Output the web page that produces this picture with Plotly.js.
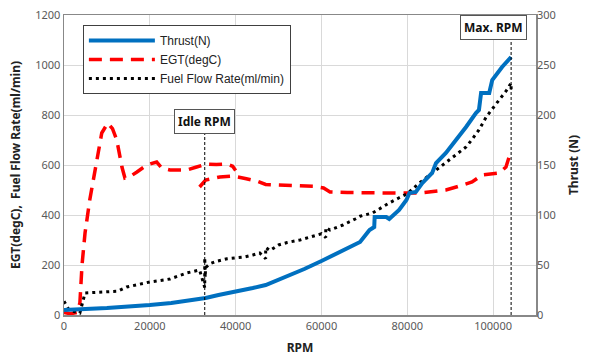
<!DOCTYPE html>
<html>
<head>
<meta charset="utf-8">
<script src="https://cdn.plot.ly/plotly-3.0.1.min.js"></script>
<style>html,body{margin:0;padding:0;background:#fff;}#chart{width:590px;height:356px;}</style>
</head>
<body>
<div id="chart"></div>
<script>
// ---- data ----
const thrustRpm = [0, 2000, 5000, 10000, 15000, 20000, 25000, 30000, 33000, 36000, 40000, 44000, 47000, 50000, 53000, 56000, 60000, 63000, 66000, 69000, 71200, 72300, 72400, 75100, 75800, 78100, 79800, 80500, 82000, 83500, 85800, 86700, 89000, 91400, 93700, 96000, 96700, 97200, 99100, 99800, 102100, 104200];
const thrustN   = [5, 5, 6, 7, 8, 10, 12, 15, 17, 20, 23, 27, 30, 35, 40, 46, 54, 60, 66, 73, 85, 88, 98, 98, 96, 105, 115, 122, 123, 132, 142, 152, 162, 175, 188, 202, 205, 222, 222, 235, 248, 258];

const egtRpm = [0, 1500, 3000, 3700, 4200, 4900, 6000, 7600, 8800, 10200, 11300, 12300, 13500, 14200, 15500, 17000, 19300, 21600, 22800, 24700, 28600, 30900, 33200, 35500, 37900, 39300, 40000, null, 31600, 33000, 36300, 39300, 42500, 45000, 47000, 52000, 58000, 60500, 62000, 66000, 71200, 76000, 82800, 89000, 91400, 95100, 97400, 101400, 103000, 103700, 104200];
const egtC   = [10, 5, 10, 48, 200, 328, 460, 620, 728, 768, 745, 700, 592, 548, 555, 572, 600, 612, 588, 580, 580, 592, 604, 602, 604, 595, 578, null, 512, 540, 552, 556, 545, 535, 522, 520, 515, 508, 492, 490, 488, 488, 488, 500, 512, 532, 560, 568, 592, 630, 640];

const fuelRpm = [0, 500, 1000, 2000, 3700, 4900, 7000, 10700, 12500, 14600, 17000, 20000, 24700, 28600, 31600, 32800, 32800, 32900, 33000, 34000, 35600, 38000, 40200, 42000, 44000, 45600, 47000, 47000, 48000, 50000, 52000, 55000, 58000, 60000, 61000, 61000, 62000, 65000, 68000, 69000, 71900, 73000, 75800, 78000, 80000, 82800, 86000, 89800, 92000, 93700, 95000, 96700, 98400, 100000, 101400, 103000, 104200, 104200];
const fuelMl  = [55, 40, 25, 15, 8, 88, 90, 92, 95, 112, 122, 132, 144, 168, 180, 110, 230, 150, 190, 205, 215, 225, 230, 232, 240, 248, 225, 270, 258, 280, 290, 300, 315, 325, 310, 350, 340, 360, 385, 395, 408, 420, 448, 468, 485, 528, 570, 620, 650, 672, 700, 740, 792, 830, 860, 895, 928, 900];

const markerRpm    = [32800, 104200];
const markerLabels = ['Idle RPM', 'Max. RPM'];
const markerTop    = [724, 1100];
const markerShift  = [0, -18];

const xTicks  = [0, 20000, 40000, 60000, 80000, 100000];
const yTicks  = [0, 200, 400, 600, 800, 1000, 1200];
const y2Ticks = [0, 50, 100, 150, 200, 250, 300];

// ---- chart ----
const FONT = '"Noto Sans", "Open Sans", sans-serif';
const LFONT = '"Liberation Sans", Arial, sans-serif';

const traces = [
  {x: thrustRpm, y: thrustN, name: 'Thrust(N)', type: 'scatter', mode: 'lines', yaxis: 'y2',
   line: {color: '#0070c0', width: 4}},
  {x: egtRpm, y: egtC, name: 'EGT(degC)', type: 'scatter', mode: 'lines', connectgaps: false,
   line: {color: '#ff0000', width: 3.5, dash: '13px,8px'}},
  {x: fuelRpm, y: fuelMl, name: 'Fuel Flow Rate(ml/min)', type: 'scatter', mode: 'lines',
   line: {color: '#000000', width: 3, dash: '3px,4px'}}
];

const shapes = markerRpm.map((r, i) => ({
  type: 'line', xref: 'x', yref: 'y', x0: r, x1: r, y0: 0, y1: markerTop[i],
  line: {color: '#000', width: 1, dash: '3px,2px'}, layer: 'above'
}));

const annotations = markerRpm.map((r, i) => ({
  x: r, y: markerTop[i], xref: 'x', yref: 'y', xanchor: 'center', yanchor: 'bottom',
  xshift: markerShift[i], text: '<b>' + markerLabels[i] + '</b>', showarrow: false,
  font: {family: FONT, size: 12, color: '#111'}, bgcolor: '#fff',
  bordercolor: '#555', borderwidth: 1, borderpad: 3
}));

const layout = {
  width: 590, height: 356,
  margin: {l: 64, r: 54, t: 15, b: 41},
  paper_bgcolor: '#fff', plot_bgcolor: '#fff',
  font: {family: FONT, size: 11, color: '#595959'},
  showlegend: true,
  legend: {x: 0.04, y: 0.967, xanchor: 'left', yanchor: 'top', bgcolor: '#fff',
           bordercolor: '#404040', borderwidth: 1, font: {family: LFONT, size: 12, color: '#222'},
           itemwidth: 66, tracegroupgap: 0},
  xaxis: {range: [0, 110000], tickvals: xTicks, ticktext: xTicks.map(String),
          showgrid: true, gridcolor: '#d9d9d9', zeroline: false,
          showline: true, linecolor: '#888', linewidth: 1.5, mirror: true, ticks: '',
          title: {text: '<b>RPM</b>', font: {family: FONT, size: 12, color: '#222'}, standoff: 12}},
  yaxis: {range: [0, 1200], tickvals: yTicks, ticktext: yTicks.map(String),
          showgrid: true, gridcolor: '#d9d9d9', zeroline: false,
          showline: true, linecolor: '#888', linewidth: 1.5, mirror: true, ticks: '',
          title: {text: '<b>EGT(degC),  Fuel Flow Rate(ml/min)</b>', font: {family: FONT, size: 12, color: '#222'}, standoff: 12}},
  yaxis2: {range: [0, 300], tickvals: y2Ticks, ticktext: y2Ticks.map(String), overlaying: 'y', side: 'right',
           showgrid: false, zeroline: false, showline: false, ticks: '',
           title: {text: '<b>Thrust (N)</b>', font: {family: FONT, size: 12, color: '#222'}, standoff: 14}},
  shapes: shapes,
  annotations: annotations
};

Plotly.newPlot('chart', traces, layout, {displayModeBar: false, staticPlot: true});
</script>
</body>
</html>
